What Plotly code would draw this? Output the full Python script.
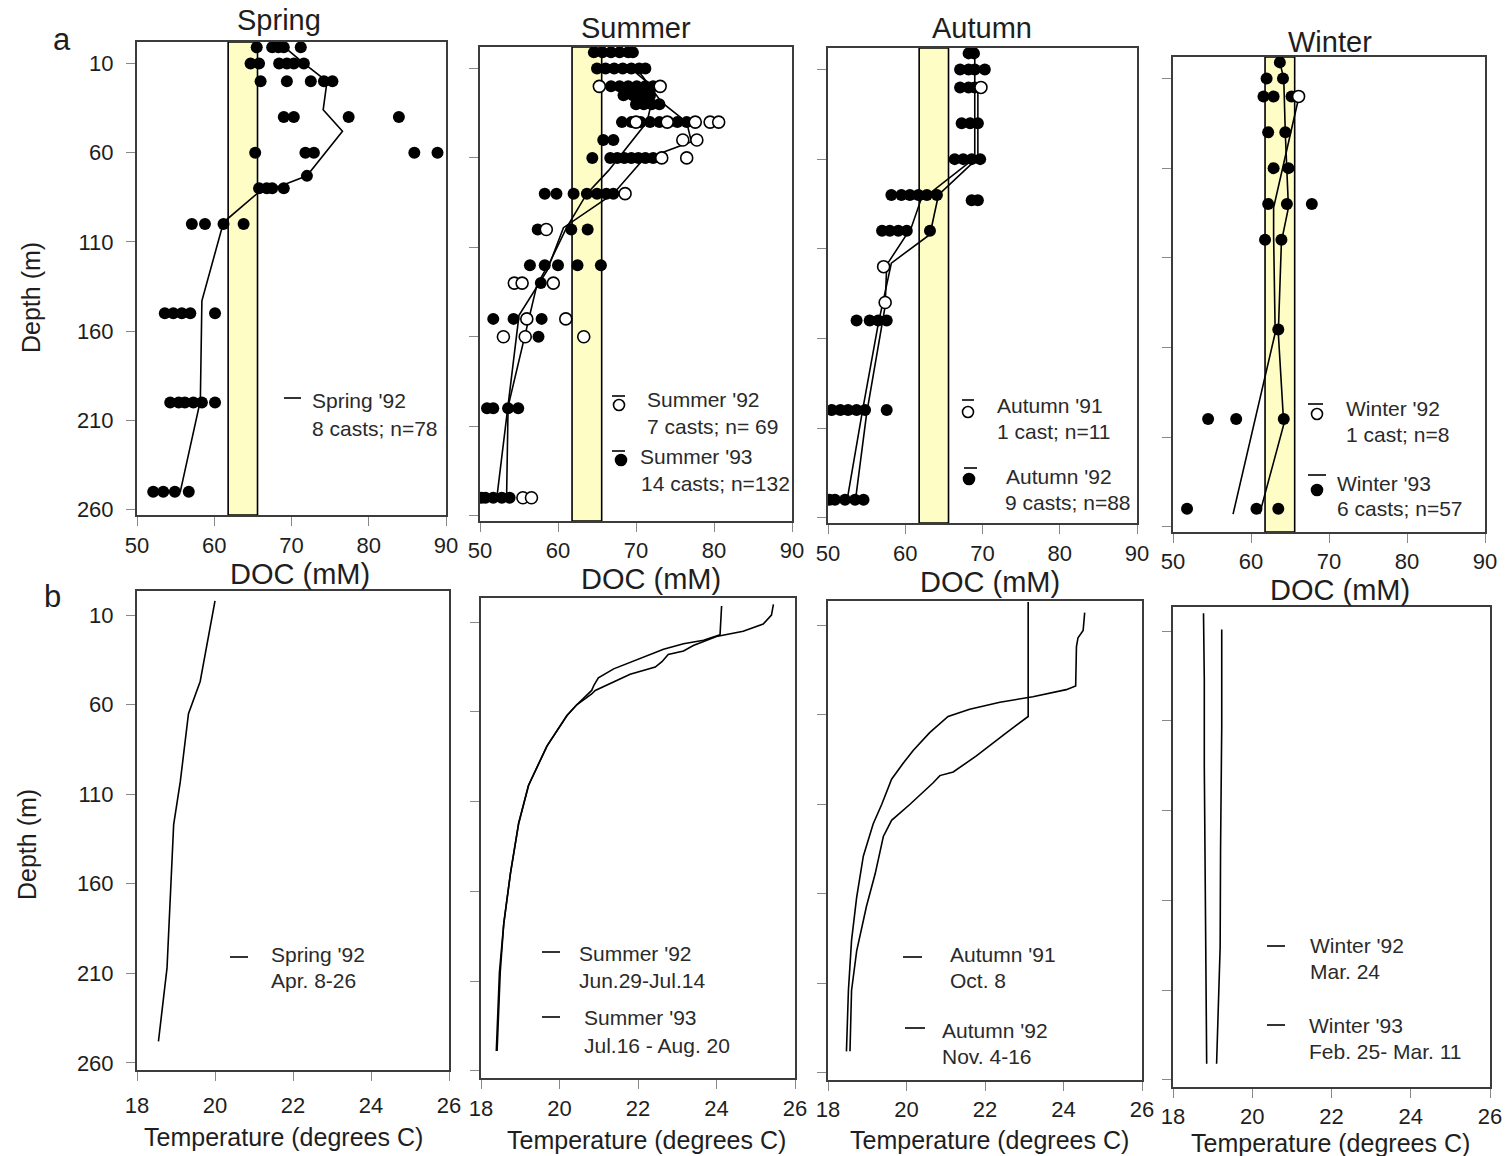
import plotly.graph_objects as go

W, H = 1509, 1156
FONT = "Liberation Sans, Arial, Helvetica, sans-serif"
INK = "#1e1e1e"

# ---------------- shared axis values ----------------
depth_ticks = [10, 60, 110, 160, 210, 260]
doc_ticks = [50, 60, 70, 80, 90]
temp_ticks = [18, 20, 22, 24, 26]
doc_band = [61.8, 65.6]          # shaded DOC range

# ---------------- (a) DOC profiles ----------------
# Spring '92 (filled)
spring92_depths = [1, 10, 20, 40, 60, 73, 80, 100, 150, 200, 250]
spring92_docs = [
    [65.5, 67.5, 68.3, 69.0, 71.2],
    [64.7, 65.8, 68.4, 69.4, 70.3, 71.6],
    [66.0, 69.4, 72.5, 74.2, 75.3],
    [69.0, 70.3, 77.4, 83.9],
    [65.3, 71.8, 72.9, 85.9, 88.9],
    [72.0],
    [65.8, 66.8, 67.5, 69.0],
    [57.1, 58.8, 61.2, 63.8],
    [53.6, 54.7, 55.8, 56.9, 60.1],
    [54.3, 55.4, 56.2, 57.3, 58.4, 60.1],
    [52.1, 53.4, 54.9, 56.7],
]
spring92_mean_depth = [2, 10, 20, 36, 48, 73, 78, 82, 99, 143, 199, 250]
spring92_mean_doc = [69.4, 71.6, 74.6, 74.1, 76.6, 72.0, 69.0, 65.8, 61.2, 58.4, 58.2, 55.6]

# Summer '93 (filled) and Summer '92 (open)
summer93_depths = [1, 10, 20, 25, 30, 40, 50, 60, 80, 100, 120, 130, 150, 160, 200, 250]
summer93_docs = [
    [64.6, 65.7, 66.8, 67.9, 69.0, 69.6],
    [65.0, 66.1, 67.2, 68.3, 69.4, 70.4, 71.2],
    [66.8, 67.9, 69.0, 70.1, 71.2, 72.2],
    [68.4, 69.6, 70.8, 71.8],
    [70.0, 71.0, 72.0, 73.0],
    [68.2, 69.4, 70.6, 71.8, 73.0, 74.2, 75.3, 76.5],
    [65.8, 67.1],
    [64.4, 66.7, 67.6, 68.5, 69.4, 70.3, 71.2, 72.2],
    [58.3, 59.8, 62.0, 63.7, 65.0, 66.2, 67.1],
    [57.4, 61.7, 63.8],
    [56.4, 58.3, 60.0, 62.5, 65.5],
    [57.8],
    [51.7, 54.3, 57.9],
    [57.5],
    [50.9, 51.7, 53.6, 54.9],
    [50.2, 50.7, 51.7, 52.8, 53.8],
]
summer92_depths = [20, 40, 50, 60, 80, 100, 130, 150, 160, 250]
summer92_docs = [
    [65.3, 73.1],
    [70.0, 74.0, 77.6, 79.5, 80.6],
    [76.0, 77.8],
    [73.3, 76.5],
    [68.6],
    [58.5],
    [54.4, 55.4, 59.4],
    [56.0, 61.0],
    [53.0, 55.8, 63.3],
    [55.5, 56.6],
]
summer93_mean_depth = [8, 19, 29, 40, 67, 80, 99, 118, 131, 199, 252]
summer93_mean_doc = [68.8, 71.8, 72.0, 71.4, 66.5, 63.7, 61.1, 59.0, 57.3, 53.6, 53.4]
summer92_mean_depth = [10, 29, 40, 51, 61, 80, 99, 123, 148, 199, 252]
summer92_mean_doc = [70.1, 73.3, 76.5, 77.1, 70.9, 67.1, 60.7, 58.6, 55.0, 53.6, 52.1]

# Autumn '92 (filled) and Autumn '91 (open)
autumn92_depths = [1, 10, 20, 40, 60, 80, 83, 100, 150, 200, 250]
autumn92_docs = [
    [68.2, 68.9],
    [67.1, 68.2, 69.0, 70.3],
    [67.1, 68.2, 69.0],
    [67.3, 68.4, 69.4],
    [66.4, 67.5, 68.6, 69.7],
    [58.2, 59.5, 60.6, 61.7, 62.8, 64.1],
    [68.6, 69.4],
    [57.0, 58.0, 59.1, 60.2, 63.2],
    [53.7, 55.4, 56.5, 57.6],
    [50.5, 51.6, 52.6, 53.7, 54.8, 57.6],
    [50.2, 50.9, 52.2, 53.5, 54.6],
]
autumn91_depths = [20, 120, 140]
autumn91_docs = [[69.8], [57.2], [57.4]]
autumn92_mean_depth = [1, 61, 80, 102, 118, 152, 202, 252]
autumn92_mean_doc = [69.0, 69.0, 64.3, 63.2, 58.2, 56.5, 54.4, 52.4]
autumn91_mean_depth = [19, 58, 83, 98, 119, 142, 202, 252]
autumn91_mean_doc = [69.4, 69.4, 62.0, 60.8, 57.6, 57.4, 55.0, 53.5]

# Winter '93 (filled) and Winter '92 (open)
winter93_depths = [1, 10, 20, 40, 60, 80, 100, 150, 200, 250]
winter93_docs = [
    [63.7],
    [62.0, 64.1],
    [61.6, 62.9, 65.2],
    [62.2, 64.4],
    [62.9, 64.8],
    [62.2, 64.6, 67.8],
    [61.8, 63.9],
    [63.5],
    [54.5, 58.1, 64.2],
    [51.8, 60.7, 63.5],
]
winter92_depths = [20]
winter92_docs = [[66.1]]
winter92_mean_depth = [21, 82, 98, 152, 253]
winter92_mean_doc = [66.1, 62.9, 62.9, 63.1, 57.7]
winter93_mean_depth = [1, 10, 41, 82, 101, 152, 203, 253]
winter93_mean_doc = [63.7, 64.2, 64.4, 64.8, 63.9, 63.5, 64.2, 61.1]

# ---------------- (b) temperature profiles ----------------
spring92_t_depth = [2, 47, 65, 103, 127, 207, 248]
spring92_temp = [20.0, 19.62, 19.32, 19.11, 18.94, 18.77, 18.55]

summer92_t_depth = [1, 17, 20, 22, 25, 31, 36, 41, 45, 48, 56, 62, 79, 101, 122, 150, 178, 205, 249]
summer92_temp = [24.13, 24.09, 23.67, 23.16, 22.65, 21.97, 21.38, 20.99, 20.88, 20.82, 20.44,
                 20.19, 19.68, 19.21, 18.96, 18.75, 18.58, 18.49, 18.41]
summer93_t_depth = [0, 6, 11, 15, 18, 23, 26, 28, 32, 35, 39, 44, 48, 50, 56, 62, 79, 101, 122,
                    150, 178, 205, 249]
summer93_temp = [25.45, 25.40, 25.19, 24.68, 24.00, 23.41, 23.16, 22.77, 22.61, 22.44, 21.80,
                 21.29, 20.91, 20.82, 20.44, 20.19, 19.68, 19.21, 18.96, 18.75, 18.58, 18.47, 18.39]

autumn91_t_depth = [-3, 61, 70, 83, 92, 94, 98, 103, 106, 110, 119, 128, 149, 167, 192, 214, 248]
autumn91_temp = [23.10, 23.10, 22.55, 21.78, 21.19, 20.85, 20.68, 20.43, 20.30, 20.09, 19.62,
                 19.41, 19.20, 18.98, 18.73, 18.60, 18.56]
autumn92_t_depth = [3, 13, 17, 22, 44, 46, 50, 53, 57, 61, 70, 80, 87, 96, 110, 121, 139, 162,
                    186, 214, 248]
autumn92_temp = [24.54, 24.50, 24.37, 24.33, 24.31, 24.07, 23.22, 22.38, 21.61, 21.06, 20.59,
                 20.17, 19.92, 19.62, 19.37, 19.15, 18.90, 18.73, 18.60, 18.52, 18.47]

winter92_t_depth = [0, 37, 85, 130, 180, 251]
winter92_temp = [18.77, 18.79, 18.79, 18.81, 18.83, 18.85]
winter93_t_depth = [9, 63, 132, 186, 251]
winter93_temp = [19.23, 19.23, 19.20, 19.19, 19.10]


def flatten(depths, rows):
    xs, ys = [], []
    for d, row in zip(depths, rows):
        for v in row:
            xs.append(v)
            ys.append(d)
    return xs, ys


fig = go.Figure()


def ax(i):
    s = "" if i == 1 else str(i)
    return "x" + s, "y" + s


def add_line(i, x, y):
    xa, ya = ax(i)
    fig.add_trace(go.Scatter(x=x, y=y, mode="lines", xaxis=xa, yaxis=ya,
                             line=dict(color="black", width=1.6),
                             showlegend=False, hoverinfo="skip"))


def add_dots(i, depths, rows, filled):
    xa, ya = ax(i)
    x, y = flatten(depths, rows)
    fig.add_trace(go.Scatter(
        x=x, y=y, mode="markers", xaxis=xa, yaxis=ya,
        marker=dict(size=12, color="black" if filled else "white",
                    line=dict(color="black", width=0 if filled else 1.6)),
        showlegend=False, hoverinfo="skip"))


# panel a
add_line(1, spring92_mean_doc, spring92_mean_depth)
add_dots(1, spring92_depths, spring92_docs, True)

add_line(2, summer93_mean_doc, summer93_mean_depth)
add_line(2, summer92_mean_doc, summer92_mean_depth)
add_dots(2, summer93_depths, summer93_docs, True)
add_dots(2, summer92_depths, summer92_docs, False)

add_line(3, autumn92_mean_doc, autumn92_mean_depth)
add_line(3, autumn91_mean_doc, autumn91_mean_depth)
add_dots(3, autumn92_depths, autumn92_docs, True)
add_dots(3, autumn91_depths, autumn91_docs, False)

add_line(4, winter92_mean_doc, winter92_mean_depth)
add_line(4, winter93_mean_doc, winter93_mean_depth)
add_dots(4, winter93_depths, winter93_docs, True)
add_dots(4, winter92_depths, winter92_docs, False)

# panel b
add_line(5, spring92_temp, spring92_t_depth)
add_line(6, summer92_temp, summer92_t_depth)
add_line(6, summer93_temp, summer93_t_depth)
add_line(7, autumn91_temp, autumn91_t_depth)
add_line(7, autumn92_temp, autumn92_t_depth)
add_line(8, winter92_temp, winter92_t_depth)
add_line(8, winter93_temp, winter93_t_depth)

# panel frames in pixels: left, top, right, bottom
boxes = {
    1: (137, 42, 446, 515), 2: (480, 47, 792, 521), 3: (828, 48, 1137, 523), 4: (1173, 57, 1485, 532),
    5: (137, 591, 449, 1070), 6: (481, 598, 795, 1078), 7: (828, 601, 1142, 1080), 8: (1173, 607, 1490, 1087),
}
# gap between frame and x tick labels, per panel
x_label_gap = {1: 1, 2: 0, 3: 1, 4: 0, 5: 6, 6: 1, 7: 0, 8: 0}

layout = dict(
    width=W, height=H, margin=dict(l=0, r=0, t=0, b=0),
    paper_bgcolor="white", plot_bgcolor="white",
    font=dict(family=FONT, color=INK),
    showlegend=False,
)

for i, (l, t, r, b) in boxes.items():
    s = "" if i == 1 else str(i)
    top_row = i <= 4
    common = dict(showline=True, mirror=True, linecolor="#3c3c3c", linewidth=2,
                  ticks="outside", ticklen=9, tickwidth=1, tickcolor="#888",
                  showgrid=False, zeroline=False, automargin=False, fixedrange=True,
                  tickfont=dict(size=22, color=INK, family=FONT))
    layout["xaxis" + s] = dict(common, domain=[l / W, r / W], anchor="y" + s,
                               range=[50, 90] if top_row else [18, 26],
                               tickvals=doc_ticks if top_row else temp_ticks,
                               ticklabelstandoff=x_label_gap[i])
    layout["yaxis" + s] = dict(common, domain=[1 - b / H, 1 - t / H], anchor="x" + s,
                               range=[263, -2] if top_row else [264, -3.5],
                               tickvals=depth_ticks,
                               showticklabels=i in (1, 5), ticklabelstandoff=8)

shapes = []
for i in range(1, 5):
    s = "" if i == 1 else str(i)
    shapes.append(dict(type="rect", xref="x" + s, yref="y" + s + " domain",
                       x0=doc_band[0], x1=doc_band[1], y0=0, y1=1,
                       fillcolor="#FFFDC6", line=dict(color="black", width=1.6), layer="below"))


def px(x):
    return x / W


def py(y):
    return 1 - y / H


def key_bar(x0, x1, y):
    shapes.append(dict(type="line", xref="paper", yref="paper", x0=px(x0), x1=px(x1),
                       y0=py(y), y1=py(y), line=dict(color="black", width=1.6)))


def key_dot(cx, cy, filled, r=5.5):
    shapes.append(dict(type="circle", xref="paper", yref="paper",
                       x0=px(cx - r), x1=px(cx + r), y0=py(cy + r), y1=py(cy - r),
                       fillcolor="black" if filled else "white",
                       line=dict(color="black", width=1.6)))


# legend keys
key_bar(284, 301, 398)
key_bar(612, 625, 396); key_dot(619, 405, False)
key_bar(612, 625, 451); key_dot(621, 460, True)
key_bar(962, 974, 400); key_dot(968, 412, False)
key_bar(964, 977, 468); key_dot(969, 479, True)
key_bar(1308, 1323, 404); key_dot(1317, 414, False)
key_bar(1308, 1326, 475); key_dot(1317, 490, True)
key_bar(230, 248, 957)
key_bar(542, 560, 952); key_bar(542, 560, 1017)
key_bar(903, 922, 957); key_bar(905, 925, 1028)
key_bar(1267, 1285, 946); key_bar(1267, 1285, 1025)

annotations = []


def text(x, y, s, size, anchor="left", angle=0, color=INK):
    annotations.append(dict(x=px(x), y=py(y), xref="paper", yref="paper", text=s,
                            showarrow=False, xanchor=anchor, yanchor="middle",
                            textangle=angle, font=dict(size=size, color=color, family=FONT)))


LEG = 21
LEGC = "#2a2a2a"
legend_lines = [
    (310, 401, "Spring '92"), (310, 428, "8 casts; n=78"),
    (645, 400, "Summer '92"), (645, 426, "7 casts; n= 69"),
    (638, 456, "Summer '93"), (639, 483, "14 casts; n=132"),
    (995, 405, "Autumn '91"), (995, 431, "1 cast; n=11"),
    (1004, 476, "Autumn '92"), (1003, 502, "9 casts; n=88"),
    (1344, 408, "Winter '92"), (1344, 434, "1 cast; n=8"),
    (1335, 483, "Winter '93"), (1335, 508, "6 casts; n=57"),
    (269, 954, "Spring '92"), (269, 980, "Apr. 8-26"),
    (577, 953, "Summer '92"), (577, 980, "Jun.29-Jul.14"),
    (582, 1018, "Summer '93"), (582, 1045, "Jul.16 - Aug. 20"),
    (948, 954, "Autumn '91"), (948, 980, "Oct. 8"),
    (940, 1030, "Autumn '92"), (940, 1056, "Nov. 4-16"),
    (1308, 945, "Winter '92"), (1308, 971, "Mar. 24"),
    (1307, 1025, "Winter '93"), (1307, 1051, "Feb. 25- Mar. 11"),
]
for x, y, s in legend_lines:
    text(x, y, s, LEG, color=LEGC)

# season titles
for x, y, s in [(279, 20, "Spring"), (636, 28, "Summer"), (982, 28, "Autumn"), (1330, 42, "Winter")]:
    text(x, y, s, 29, anchor="center")

# x-axis titles
for x, y in [(300, 574), (651, 579), (990, 582), (1340, 590)]:
    text(x, y, "DOC (mM)", 29, anchor="center")
for x, y in [(283, 1137), (646, 1140), (989, 1140), (1330, 1143)]:
    text(x, y, "Temperature (degrees C)", 25, anchor="center")

# y-axis titles and panel letters
text(31, 297, "Depth (m)", 25, anchor="center", angle=-90)
text(27, 845, "Depth (m)", 25, anchor="center", angle=-90)
text(62, 40, "a", 31, anchor="center")
text(52, 596, "b", 31, anchor="center")

layout["shapes"] = shapes
layout["annotations"] = annotations
fig.update_layout(**layout)

fig.write_html("out.html")
